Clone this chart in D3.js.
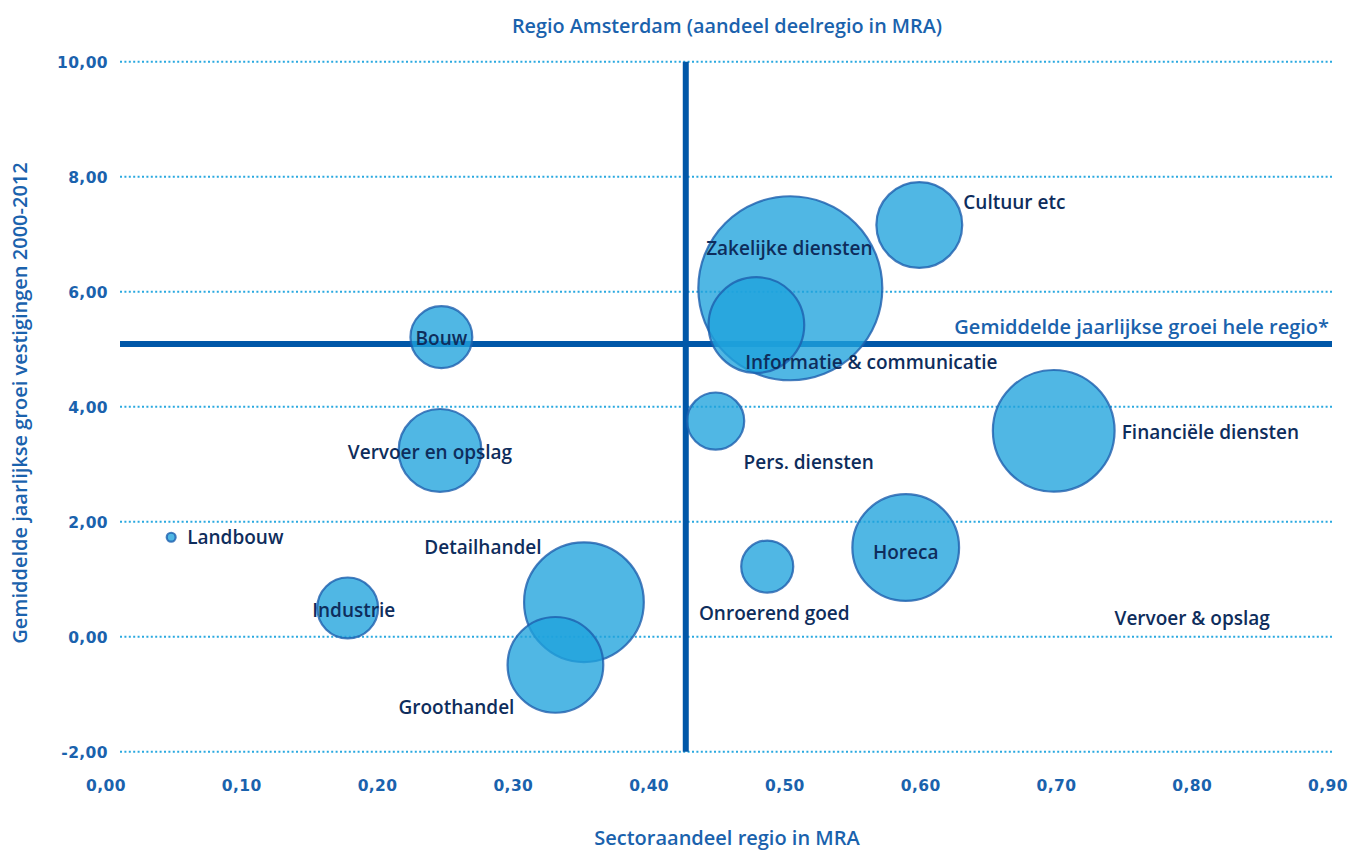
<!DOCTYPE html>
<html>
<head>
<meta charset="utf-8">
<script src="https://cdn.jsdelivr.net/npm/d3@7"></script>
<style>
  html, body { margin: 0; padding: 0; background: #fff; }
  svg { display: block; }
</style>
</head>
<body>
<svg id="chart" width="1356" height="851"></svg>
<script>
// Sectors of the MRA: share of the Amsterdam sub-region (x), yearly growth of establishments (y), bubble size
const sectors = ["Landbouw", "Industrie", "Bouw", "Vervoer en opslag", "Detailhandel", "Groothandel",
  "Zakelijke diensten", "Informatie & communicatie", "Cultuur etc", "Pers. diensten",
  "Onroerend goed", "Horeca", "Financiële diensten"];
const shareMRA   = [0.048, 0.178, 0.247, 0.246, 0.352, 0.331, 0.504, 0.479, 0.599, 0.449, 0.487, 0.589, 0.698];
const growthRate = [1.73, 0.50, 5.21, 3.24, 0.60, -0.49, 6.06, 5.42, 7.16, 3.75, 1.22, 1.55, 3.58];
const bubbleSize = [0.2, 9.3, 9.6, 17.2, 36.0, 23.0, 85.0, 23.0, 18.5, 8.2, 6.8, 28.6, 37.2];

// Reference lines: regional share of Amsterdam and average yearly growth of the whole region
const avgShare = 0.427;
const avgGrowth = 5.09;

const xTicks = [0, 0.1, 0.2, 0.3, 0.4, 0.5, 0.6, 0.7, 0.8, 0.9];
const yTicks = [-2, 0, 2, 4, 6, 8, 10];

// Label placement per sector: offset from bubble centre (px) and anchor
const labelPlacement = [
  { dx: 16, dy: 7, anchor: "start" },     // Landbouw
  { dx: 6, dy: 9, anchor: "middle" },     // Industrie
  { dx: 0, dy: 8, anchor: "middle" },     // Bouw
  { dx: -10, dy: 9, anchor: "middle" },   // Vervoer en opslag
  { dx: -101, dy: -48, anchor: "middle" },// Detailhandel
  { dx: -99, dy: 49, anchor: "middle" },  // Groothandel
  { dx: -1, dy: -33, anchor: "middle" },  // Zakelijke diensten
  { dx: 115, dy: 44, anchor: "middle" },  // Informatie & communicatie
  { dx: 44, dy: -16, anchor: "start" },   // Cultuur etc
  { dx: 93, dy: 48, anchor: "middle" },   // Pers. diensten
  { dx: 7, dy: 53, anchor: "middle" },    // Onroerend goed
  { dx: 0, dy: 11, anchor: "middle" },    // Horeca
  { dx: 68, dy: 8, anchor: "start" }      // Financiële diensten
];

const svg = d3.select("#chart");
const plotLeft = 120, plotRight = 1332;

const x = d3.scaleLinear().domain([0, 0.9]).range([106, 1328]);
const y = d3.scaleLinear().domain([-2, 10]).range([751.7, 61.7]);
const r = d3.scaleSqrt().domain([0, 85]).range([0, 92]);

const blue = "#1a62ad";
const navy = "#0e2d5c";
const labelFont = "'Open Sans', 'Noto Sans', sans-serif";
const tickFont = "'DejaVu Sans', Verdana, sans-serif";
const fmt = d => d3.format(".2f")(d).replace(".", ",").replace("\u2212", "-");

// Dotted horizontal gridlines
svg.append("g")
  .selectAll("line")
  .data(yTicks)
  .join("line")
  .attr("x1", plotLeft).attr("x2", plotRight)
  .attr("y1", d => y(d)).attr("y2", d => y(d))
  .attr("stroke", "#2aa9e0")
  .attr("stroke-width", 2)
  .attr("stroke-dasharray", "2,2.4");

// Y tick labels
svg.append("g")
  .selectAll("text")
  .data(yTicks)
  .join("text")
  .attr("x", 108)
  .attr("y", d => y(d) + 6)
  .attr("text-anchor", "end")
  .attr("font-family", tickFont)
  .attr("font-weight", "bold")
  .attr("font-size", 15.5)
  .attr("letter-spacing", 0.4)
  .attr("fill", blue)
  .text(fmt);

// X tick labels
svg.append("g")
  .selectAll("text")
  .data(xTicks)
  .join("text")
  .attr("x", d => x(d))
  .attr("y", 791)
  .attr("text-anchor", "middle")
  .attr("font-family", tickFont)
  .attr("font-weight", "bold")
  .attr("font-size", 15.5)
  .attr("letter-spacing", 0.4)
  .attr("fill", blue)
  .text(fmt);

// Reference lines
svg.append("line")
  .attr("x1", x(avgShare)).attr("x2", x(avgShare))
  .attr("y1", y(10)).attr("y2", y(-2))
  .attr("stroke", "#0057a8").attr("stroke-width", 6);
svg.append("line")
  .attr("x1", plotLeft).attr("x2", plotRight)
  .attr("y1", y(avgGrowth)).attr("y2", y(avgGrowth))
  .attr("stroke", "#0057a8").attr("stroke-width", 6);

// Bubbles
const data = sectors.map((s, i) => ({ name: s, x: shareMRA[i], y: growthRate[i], size: bubbleSize[i], lp: labelPlacement[i] }));

svg.append("g")
  .selectAll("circle")
  .data(data)
  .join("circle")
  .attr("cx", d => x(d.x))
  .attr("cy", d => y(d.y))
  .attr("r", d => Math.max(r(d.size), 3.5))
  .attr("fill", "#1fa3dc")
  .attr("fill-opacity", 0.78)
  .attr("stroke", "#1d5fae")
  .attr("stroke-opacity", 0.8)
  .attr("stroke-width", 2.2);

// Sector labels
svg.append("g")
  .selectAll("text")
  .data(data)
  .join("text")
  .attr("x", d => x(d.x) + d.lp.dx)
  .attr("y", d => y(d.y) + d.lp.dy)
  .attr("text-anchor", d => d.lp.anchor)
  .attr("font-family", labelFont)
  .attr("font-weight", 600)
  .attr("font-size", 19)
  .attr("fill", navy)
  .text(d => d.name);

// Annotation of a sector without a bubble
svg.append("text")
  .attr("x", x(0.80)).attr("y", y(0.22) + 1)
  .attr("text-anchor", "middle")
  .attr("font-family", labelFont)
  .attr("font-weight", 600)
  .attr("font-size", 19)
  .attr("fill", navy)
  .text("Vervoer & opslag");

// Label of the average growth line
svg.append("text")
  .attr("x", 1329).attr("y", y(avgGrowth) - 10)
  .attr("text-anchor", "end")
  .attr("font-family", labelFont)
  .attr("font-weight", 600)
  .attr("font-size", 20)
  .attr("fill", blue)
  .text("Gemiddelde jaarlijkse groei hele regio*");

// Titles
svg.append("text")
  .attr("x", 727).attr("y", 33)
  .attr("text-anchor", "middle")
  .attr("font-family", labelFont)
  .attr("font-weight", 600)
  .attr("font-size", 19.8)
  .attr("fill", blue)
  .text("Regio Amsterdam (aandeel deelregio in MRA)");

svg.append("text")
  .attr("x", 727).attr("y", 845)
  .attr("text-anchor", "middle")
  .attr("font-family", labelFont)
  .attr("font-weight", 600)
  .attr("font-size", 20)
  .attr("fill", blue)
  .text("Sectoraandeel regio in MRA");

svg.append("text")
  .attr("transform", "translate(27,403) rotate(-90)")
  .attr("text-anchor", "middle")
  .attr("font-family", labelFont)
  .attr("font-weight", 600)
  .attr("font-size", 20)
  .attr("fill", blue)
  .text("Gemiddelde jaarlijkse groei vestigingen 2000-2012");
</script>
</body>
</html>
